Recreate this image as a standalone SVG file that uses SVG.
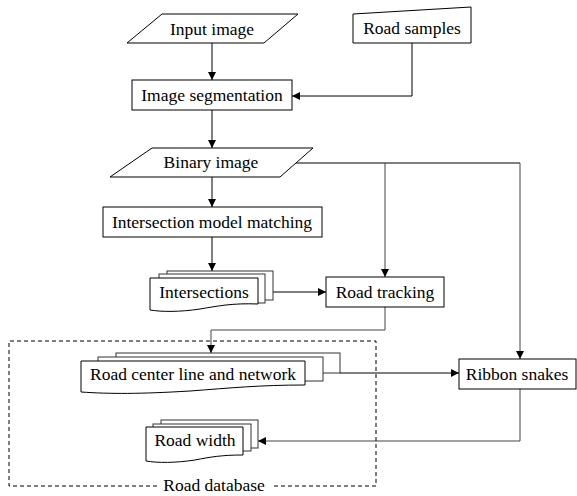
<svg xmlns="http://www.w3.org/2000/svg" width="577" height="496" viewBox="0 0 577 496">
<style>
text{font-family:"Liberation Serif","Times New Roman",serif;font-size:17.5px;fill:#000;text-anchor:middle}
.s{fill:#fff;stroke:#000;stroke-width:1}
.b{fill:#fff;stroke:#333;stroke-width:1}
.c{fill:none;stroke:#000;stroke-width:1}
.g{fill:none;stroke:#444;stroke-width:1}
.d{fill:none;stroke:#000;stroke-width:1;stroke-dasharray:4,3}
</style>
<defs>
<marker id="ah" markerWidth="8" markerHeight="8" refX="8" refY="4" orient="auto" markerUnits="userSpaceOnUse">
<path d="M0,0 L8,4 L0,8 Z" fill="#000"/>
</marker>
</defs>
<rect width="577" height="496" fill="#fff"/>
<g id="connectors">
<path class="c" d="M212,43 V80" marker-end="url(#ah)"/>
<path class="c" d="M412,43 V96 H292" marker-end="url(#ah)"/>
<path class="c" d="M212,110 V148" marker-end="url(#ah)"/>
<path class="c" d="M212,177 V207" marker-end="url(#ah)"/>
<path class="c" d="M296,163 H520"/>
<path class="g" d="M520,163 V359" marker-end="url(#ah)"/>
<path class="g" d="M385,163 V277" marker-end="url(#ah)"/>
<path class="c" d="M212,237 V271" marker-end="url(#ah)"/>
<path class="c" d="M273,292 H326" marker-end="url(#ah)"/>
<path class="g" d="M385,307 V330 H211 V353" marker-end="url(#ah)"/>
<path class="c" d="M340,373 H459" marker-end="url(#ah)"/>
<path class="g" d="M520,389 V441 H258" marker-end="url(#ah)"/>
</g>
<g id="road-database">
<path class="d" d="M157,486 H9 V341 H376 V486 H271"/>
<text x="214" y="491">Road database</text>
</g>
<g id="input-image">
<path class="s" d="M162,14 H298 L264,43 H127 Z"/>
<text x="212" y="35">Input image</text>
</g>
<g id="road-samples">
<path class="s" d="M353,14 L471,7 V43 H353 Z"/>
<text x="412" y="34">Road samples</text>
</g>
<g id="image-segmentation">
<rect class="s" x="132" y="80" width="160" height="30"/>
<text x="212" y="101">Image segmentation</text>
</g>
<g id="binary-image">
<path class="s" d="M152,148 H313 L280,177 H110 Z"/>
<text x="211" y="168">Binary image</text>
</g>
<g id="intersection-model-matching">
<rect class="s" x="103" y="207" width="219" height="30"/>
<text x="212" y="228">Intersection model matching</text>
</g>
<g id="intersections">
<rect class="b" x="167" y="271" width="106" height="29"/>
<rect class="b" x="159" y="274" width="106" height="29"/>
<path class="s" d="M150,278 H258 V304 C232,303 218,306 200,309 C180,312 162,312 150,310 Z"/>
<text x="204" y="298">Intersections</text>
</g>
<g id="road-tracking">
<rect class="s" x="326" y="277" width="118" height="30"/>
<text x="385" y="298">Road tracking</text>
</g>
<g id="road-center-line">
<rect class="b" x="116" y="353" width="224" height="20"/>
<rect class="b" x="98" y="357" width="225" height="24"/>
<path class="s" d="M81,361 H305 V385 C260,385 230,388 190,391 C140,394 110,394 81,392 Z"/>
<text x="193" y="380">Road center line and network</text>
</g>
<g id="ribbon-snakes">
<rect class="s" x="459" y="359" width="117" height="30"/>
<text x="517" y="380">Ribbon snakes</text>
</g>
<g id="road-width">
<rect class="b" x="161" y="420" width="97" height="28"/>
<rect class="b" x="153" y="424" width="98" height="27"/>
<path class="s" d="M146,427 H243 V455 C222,455 210,457 195,460 C175,463 158,463 146,461 Z"/>
<text x="195" y="446">Road width</text>
</g>
</svg>
